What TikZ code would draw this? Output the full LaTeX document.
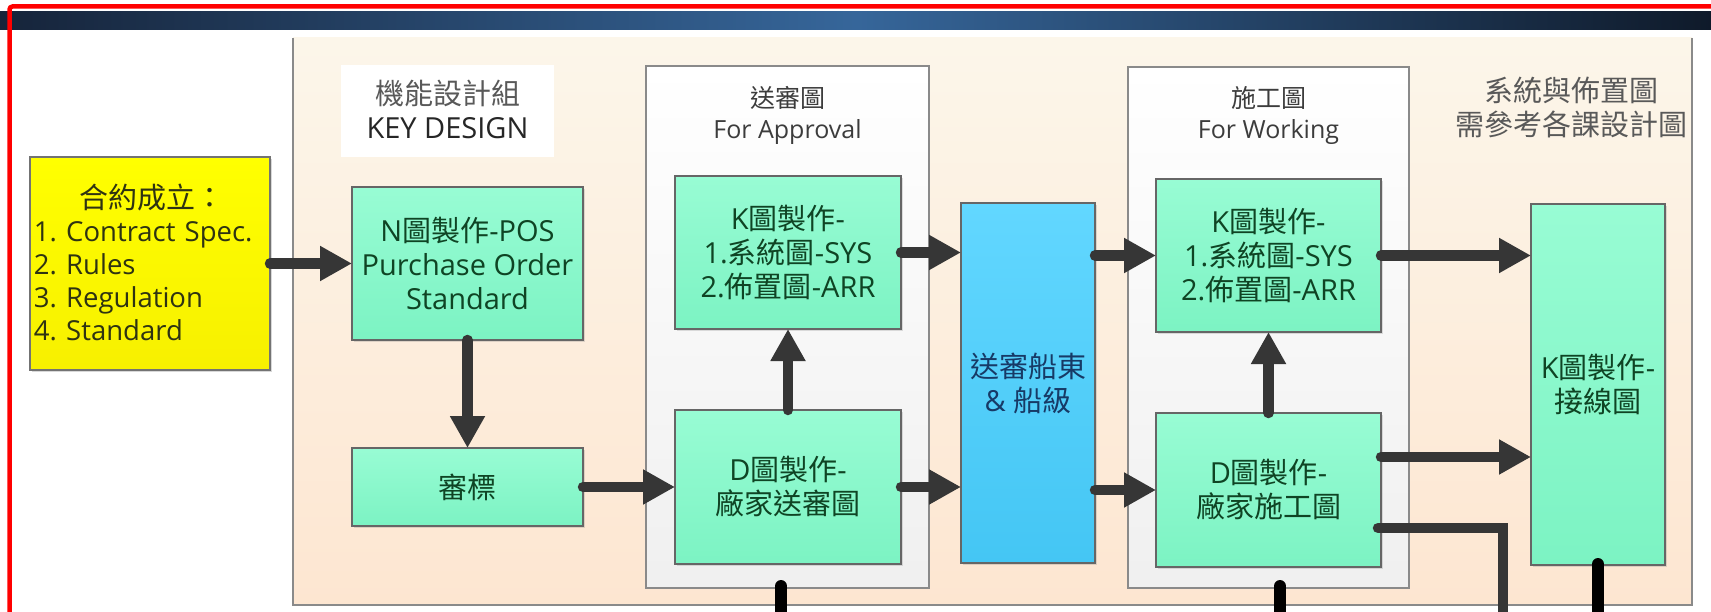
\documentclass[tikz,border=0pt]{standalone}
\usepackage{fontspec}
\setmainfont{Open Sans}[Scale=1.0]
\newfontfamily\zhfont{Noto Sans CJK TC}
\newcommand\zh[1]{{\zhfont #1}}
\frenchspacing
\usetikzlibrary{arrows.meta,shadows,calc}
\definecolor{barA}{HTML}{16243A}
\definecolor{barB}{HTML}{36669A}
\definecolor{barC}{HTML}{0F1A2A}
\definecolor{panTop}{HTML}{FCF6EA}
\definecolor{panBot}{HTML}{FDE6D1}
\definecolor{grayline}{HTML}{8A8A8A}
\definecolor{grnTop}{HTML}{98FCD4}
\definecolor{grnBot}{HTML}{7CF3C3}
\definecolor{grnTxt}{HTML}{0F4424}
\definecolor{bluTop}{HTML}{62D7FF}
\definecolor{bluBot}{HTML}{44C6F4}
\definecolor{bluTxt}{HTML}{173A66}
\definecolor{ylwTxt}{HTML}{2E3312}
\definecolor{ylwBot}{HTML}{F7F000}
\definecolor{arrowc}{HTML}{363636}
\definecolor{lblTxt}{HTML}{3C3C3C}
\begin{document}
\begin{tikzpicture}[x=1pt,y=-1pt,
  every node/.style={inner sep=0pt, outer sep=0pt},
  mainfont/.style={font=\fontsize{29}{34}\selectfont},
  smallfont/.style={font=\fontsize{25}{31}\selectfont},
  gbox/.style={draw=black!60, line width=1.2pt, top color=grnTop, bottom color=grnBot,
    text=grnTxt, align=center, mainfont,
    drop shadow={shadow xshift=2pt, shadow yshift=-2pt, opacity=0.25}},
  bbox/.style={draw=black!60, line width=1.2pt, top color=bluTop, bottom color=bluBot,
    text=bluTxt, align=center, mainfont,
    drop shadow={shadow xshift=2pt, shadow yshift=-2pt, opacity=0.25}},
  ybox/.style={draw=black!55, line width=1.5pt, top color=yellow, bottom color=ylwBot,
    drop shadow={shadow xshift=2pt, shadow yshift=-2pt, opacity=0.3}},
  ytext/.style={text=ylwTxt, font=\fontsize{27.5}{33}\selectfont, text width=236pt},
  cont/.style={draw=grayline, line width=1.5pt, top color=white, bottom color=black!6},
  lbl/.style={text=lblTxt, align=center},
  flow/.style={draw=arrowc, line width=10.5pt, line cap=round,
    -{Triangle[length=32pt, width=33pt]}},
  tail/.style={draw=black, line width=12pt, line cap=round},
]
\useasboundingbox (0,0) rectangle (1711,612);
\clip (0,0) rectangle (1711,612);
\fill[white] (0,0) rectangle (1711,612);

% top bar
\shade[left color=barA, right color=barC, middle color=barB] (0,12) rectangle (1711,30);

% main panel
\shade[top color=panTop, bottom color=panBot] (293,38) rectangle (1692,605);
\draw[grayline, line width=1.5pt] (293,38) -- (293,605) -- (1692,605) -- (1692,38);

% containers
\node[cont, minimum width=283pt, minimum height=522pt] (appr) at (787.5,327) {};
\node[cont, minimum width=281pt, minimum height=521pt] (work) at (1268.5,327.5) {};

% header labels
\node[fill=white, minimum width=213pt, minimum height=92pt] (keybg) at (447.5,111) {};
\node[lbl, mainfont] (keyd) at (447.5,109) {\textcolor{black!65}{\zh{機能設計組}}\\\textcolor{black!85}{KEY DESIGN}};
\node[lbl, smallfont] (apprlbl) at (787.5,115) {\zh{送審圖}\\For Approval};
\node[lbl, smallfont] (worklbl) at (1268.5,115) {\zh{施工圖}\\For Working};
\node[lbl, mainfont, text=black!65] (reflbl) at (1571,107.5) {\zh{系統與佈置圖}\\\zh{需參考各課設計圖}};

% boxes
\node[ybox, minimum width=240pt, minimum height=213pt] (ctr) at (150,263.5) {};
\node[ytext] (ctrtxt) at (152,262) {%
  {\centering\fontsize{29}{33}\selectfont\zh{合約成立：}\par}%
  \raggedright 1. Contract Spec.\par 2. Rules\par 3. Regulation\par 4. Standard};
\node[gbox, minimum width=231pt, minimum height=153pt] (npos) at (467.5,263.5) {N\zh{圖製作}-POS\\Purchase Order\\Standard};
\node[gbox, minimum width=231pt, minimum height=78pt] (bid) at (467.5,487) {\zh{審標}};
\node[gbox, minimum width=226pt, minimum height=153pt] (k1) at (788,252.5) {K\zh{圖製作}-\\1.\zh{系統圖}-SYS\\2.\zh{佈置圖}-ARR};
\node[gbox, minimum width=226pt, minimum height=154pt] (d1) at (788,487) {D\zh{圖製作}-\\\zh{廠家送審圖}};
\node[bbox, minimum width=134pt, minimum height=360pt] (owner) at (1028,383) {\zh{送審船東}\\\& \zh{船級}};
\node[gbox, minimum width=225pt, minimum height=153pt] (k2) at (1268.5,255.5) {K\zh{圖製作}-\\1.\zh{系統圖}-SYS\\2.\zh{佈置圖}-ARR};
\node[gbox, minimum width=225pt, minimum height=154pt] (d2) at (1268.5,490) {D\zh{圖製作}-\\\zh{廠家施工圖}};
\node[gbox, minimum width=134pt, minimum height=361pt] (kc) at (1598,384.5) {K\zh{圖製作}-\\\zh{接線圖}};

% arrows
\draw[flow] (ctr.east) -- (npos.west);
\draw[flow] (npos.south) -- (bid.north);
\draw[flow] (bid.east) -- (d1.west);
\draw[flow] (d1.north) -- (k1.south);
\draw[flow] (k1.east) -- (k1.east -| owner.west);
\draw[flow] (d1.east) -- (d1.east -| owner.west);
\draw[flow] (owner.east |- k2.west) -- (k2.west);
\draw[flow] (owner.east |- d2.west) -- (d2.west);
\draw[flow] (d2.north) -- (k2.south);
\draw[flow] (k2.east) -- (k2.east -| kc.west);
\coordinate (d2up) at ($(d2.east)+(0,-33)$);
\draw[flow] (d2up) -- (d2up -| kc.west);

% lines leaving downwards
\coordinate (d2low) at ($(d2.east)+(-3,38)$);
\coordinate (d2turn) at (1503,528);
\coordinate (d2end) at (1503,640);
\draw[draw=arrowc, line width=10.5pt, line cap=round] (d2low) -- (d2turn) -- (d2end);
\coordinate (t1) at (781,586);
\coordinate (t1e) at (781,640);
\coordinate (t2) at (1280,586);
\coordinate (t2e) at (1280,640);
\coordinate (t3e) at (1598,640);
\draw[tail] (t1) -- (t1e);
\draw[tail] (t2) -- (t2e);
\draw[tail] ($(kc.south)+(0,-1)$) -- (t3e);

% red frame
\draw[red, line width=4.5pt, rounded corners=3pt] (9.5,6.5) rectangle (1740,660);
\end{tikzpicture}
\end{document}
